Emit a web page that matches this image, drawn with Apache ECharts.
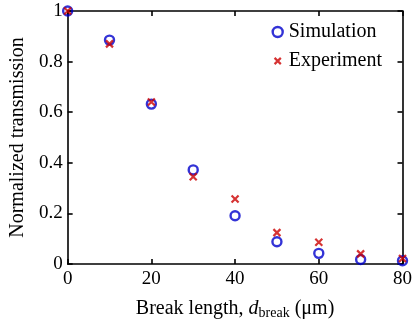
<!DOCTYPE html>
<html>
<head>
<meta charset="utf-8">
<script src="https://cdn.jsdelivr.net/npm/echarts@6/dist/echarts.min.js"></script>
<style>
  html, body { margin: 0; padding: 0; background: #fff; }
  #chart { width: 415px; height: 329px; }
</style>
</head>
<body>
<div id="chart"></div>
<script>
const breakLength = [0, 10, 20, 30, 40, 50, 60, 70, 80];
const simulation = [1.0, 0.885, 0.632, 0.372, 0.191, 0.088, 0.042, 0.018, 0.013];
const experiment = [1.0, 0.87, 0.64, 0.345, 0.257, 0.124, 0.086, 0.04, 0.022];
const xTicks = [0, 20, 40, 60, 80];
const yTicks = [0, 0.2, 0.4, 0.6, 0.8, 1];

const FONT = "Liberation Serif";
const BLUE = "#0000cc";
const RED = "#cc0000";
const CROSS = "path://M0,0L10,10M10,0L0,10";
// padded so the legend cross comes out smaller than the circle
const CROSS_LEGEND = "path://M-3,-3L-3,-3M0,0L10,10M10,0L0,10M13,13L13,13";

function pairs(ys) {
  return breakLength.map((x, i) => [x, ys[i]]);
}

function fmtY(v) {
  const hit = yTicks.find(t => Math.abs(t - v) < 1e-9);
  return hit === undefined ? "" : String(hit);
}

const chart = echarts.init(document.getElementById("chart"));

const axisLine = { show: true, onZero: false, lineStyle: { color: "#000", width: 1.6 } };
const tickIn = { show: true, inside: true, length: 5, lineStyle: { color: "#000", width: 1.6 } };

chart.setOption({
  animation: false,
  textStyle: { fontFamily: FONT },
  grid: { left: 64, right: 9, top: 11, bottom: 65 },
  legend: {
    orient: "vertical",
    right: 28,
    top: 17,
    itemGap: 9,
    itemWidth: 10,
    itemHeight: 10,
    textStyle: { fontFamily: FONT, fontSize: 20, color: "#000", padding: [0, 0, 0, 1] },
    data: [
      { name: "Simulation", icon: "circle", itemStyle: { color: "transparent", borderColor: BLUE, borderWidth: 2.4 } },
      { name: "Experiment", icon: CROSS_LEGEND, itemStyle: { color: "transparent", borderColor: RED, borderWidth: 2.2 } }
    ]
  },
  xAxis: [
    {
      type: "value", min: 0, max: 80, interval: 20,
      axisLine, axisTick: tickIn, splitLine: { show: false },
      axisLabel: { color: "#000", fontSize: 19, margin: 6, fontFamily: FONT },
      name: "{n|Break length, }{i|d}{s|break}{n| (μm)}",
      nameLocation: "middle", nameGap: 33,
      nameTextStyle: {
        rich: {
          n: { fontFamily: FONT, fontSize: 20, color: "#000" },
          i: { fontFamily: FONT, fontSize: 20, fontStyle: "italic", color: "#000" },
          s: { fontFamily: FONT, fontSize: 14, color: "#000", padding: [9, 0, 0, 0] }
        }
      }
    },
    {
      type: "value", min: 0, max: 80, interval: 20, position: "top",
      axisLine, axisTick: tickIn, axisLabel: { show: false }, splitLine: { show: false }
    }
  ],
  yAxis: [
    {
      type: "value", min: 0, max: 1, interval: 0.2,
      axisLine, axisTick: tickIn, splitLine: { show: false },
      axisLabel: { color: "#000", fontSize: 19, margin: 5, fontFamily: FONT, formatter: fmtY },
      name: "Normalized transmission",
      nameLocation: "middle", nameGap: 38,
      nameTextStyle: { fontFamily: FONT, fontSize: 20, color: "#000" }
    },
    {
      type: "value", min: 0, max: 1, interval: 0.2, position: "right",
      axisLine, axisTick: tickIn, axisLabel: { show: false }, splitLine: { show: false }
    }
  ],
  series: [
    {
      name: "Simulation", type: "scatter", data: pairs(simulation),
      symbol: "circle", symbolSize: 9,
      itemStyle: { color: "transparent", borderColor: BLUE, borderWidth: 2.4 },
      z: 3
    },
    {
      name: "Experiment", type: "scatter", data: pairs(experiment),
      symbol: CROSS, symbolSize: 7,
      itemStyle: { color: "transparent", borderColor: RED, borderWidth: 2.2 },
      z: 4
    }
  ]
});
</script>
</body>
</html>
